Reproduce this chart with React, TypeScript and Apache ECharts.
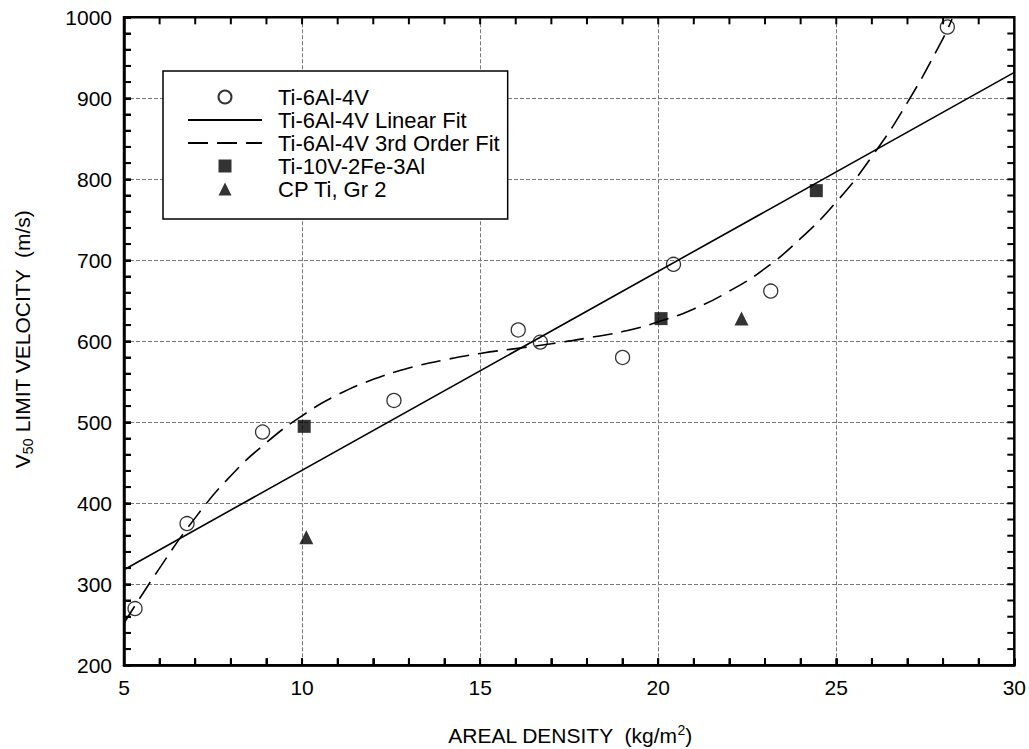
import React, { useEffect, useRef } from "react";
import * as echarts from "echarts";

const FONT = "'Liberation Sans', Arial, sans-serif";

// Ti-6Al-4V measured points
const ti64X = [5.31, 6.77, 8.89, 12.58, 16.07, 16.69, 19.0, 20.43, 23.16, 28.12];
const ti64Y = [270, 375, 488, 527, 614, 599, 580, 695, 662, 988];

// Ti-10V-2Fe-3Al
const ti10X = [10.06, 20.08, 24.44];
const ti10Y = [495, 628, 786];

// CP Ti, Gr 2
const cpX = [10.12, 22.34];
const cpY = [358, 628];

// Linear fit (end points)
const linX = [5, 30];
const linY = [318, 932];

// 3rd order fit (curve)
const cubX = [5, 6, 7, 8, 9, 10, 11, 12, 13, 14, 15, 16, 17, 18, 19, 20, 21, 22, 23, 24, 25, 26, 27, 28, 28.25];
const cubY = [252, 320, 382, 434, 475, 508, 534, 553, 567, 577, 585, 591, 597, 604, 612, 624, 640, 662, 690, 727, 772, 828, 895, 974, 998];

const xTicks = { min: 5, max: 30, interval: 5 };
const yTicks = { min: 200, max: 1000, interval: 100 };
const xMinorStep = 1;
const yMinorStep = 20;

const legendNames = [
  "Ti-6Al-4V",
  "Ti-6Al-4V Linear Fit",
  "Ti-6Al-4V 3rd Order Fit",
  "Ti-10V-2Fe-3Al",
  "CP Ti, Gr 2",
];

const xTitle = "AREAL DENSITY  (kg/m{sup|2})";
const yTitle = "V{sub|50} LIMIT VELOCITY  (m/s)";

const zip = (xs: number[], ys: number[]) => xs.map((x, i) => [x, ys[i]]);

export default function App() {
  const ref = useRef<HTMLDivElement>(null);
  useEffect(() => {
    if (!ref.current) return;
    const chart = echarts.init(ref.current, null, { renderer: "svg" });
    const axisLine = () => ({ show: true, lineStyle: { color: "#000", width: 2.5 } });
    const tick = () => ({ show: true, inside: true, length: 7, lineStyle: { color: "#000", width: 2 } });
    const minor = () => ({ show: true, splitNumber: 5, length: 7, lineStyle: { color: "#000", width: 2 } });
    const split = () => ({ show: true, lineStyle: { color: "#777", width: 1, type: "dashed" } });
    const gridRect = { left: 124, right: 13.5, top: 17.3, bottom: 83.7 };
    const titles: any[] = [
      {
        type: "text",
        x: 22,
        y: 339,
        rotation: Math.PI / 2,
        style: {
          text: yTitle,
          fontSize: 21,
          fontFamily: FONT,
          fill: "#000",
          align: "center",
          verticalAlign: "middle",
          rich: { sub: { fontSize: 14, padding: [11, 0, 0, 0], fontFamily: FONT, fill: "#000" } },
        },
      },
      {
        type: "text",
        x: 570,
        y: 735,
        style: {
          text: xTitle,
          fontSize: 21,
          fontFamily: FONT,
          fill: "#000",
          align: "center",
          verticalAlign: "middle",
          rich: { sup: { fontSize: 14, padding: [0, 0, 10, 0], fontFamily: FONT, fill: "#000" } },
        },
      },
    ];
    chart.setOption({
      animation: false,
      grid: { ...gridRect },
      legend: {
        orient: "vertical",
        left: 163,
        top: 71,
        padding: [15, 8, 19, 24],
        borderColor: "#000",
        borderWidth: 1.5,
        backgroundColor: "#fff",
        itemWidth: 74,
        itemHeight: 13,
        itemGap: 1,
        symbolKeepAspect: true,
        textStyle: { fontSize: 22, color: "#000", fontFamily: FONT, padding: [0, 0, 0, 11] },
        data: [
          { name: legendNames[0], icon: "circle" },
          { name: legendNames[1], itemStyle: { opacity: 0 } },
          { name: legendNames[2], itemStyle: { opacity: 0 } },
          { name: legendNames[3], icon: "path://M0,0L10,0L10,10L0,10Z" },
          { name: legendNames[4], icon: "path://M5,0L10,10L0,10Z" },
        ],
      },
      graphic: titles,
      xAxis: {
        type: "value",
        ...xTicks,
        axisLine: axisLine(),
        axisTick: tick(),
        minorTick: minor(),
        splitLine: split(),
        axisLabel: { fontSize: 21, color: "#000", margin: 12, fontFamily: FONT },
      },
      yAxis: {
        type: "value",
        ...yTicks,
        axisLine: axisLine(),
        axisTick: tick(),
        minorTick: minor(),
        splitLine: split(),
        axisLabel: { fontSize: 21, color: "#000", margin: 12, fontFamily: FONT, formatter: (v: number) => String(v) },
      },
      series: [
        {
          name: legendNames[1],
          type: "line",
          data: zip(linX, linY),
          symbol: "none",
          lineStyle: { color: "#000", width: 1.6, type: "solid" },
          itemStyle: { color: "#000" },
        },
        {
          name: legendNames[2],
          type: "line",
          data: zip(cubX, cubY),
          symbol: "none",
          smooth: true,
          lineStyle: { color: "#000", width: 1.6, type: [20, 9] },
          itemStyle: { color: "#000" },
        },
        {
          name: legendNames[0],
          type: "scatter",
          data: zip(ti64X, ti64Y),
          symbol: "circle",
          symbolSize: 14,
          itemStyle: { color: "rgba(255,255,255,0)", borderColor: "#000", borderWidth: 1.3 },
        },
        {
          name: legendNames[3],
          type: "scatter",
          data: zip(ti10X, ti10Y),
          symbol: "rect",
          symbolSize: 13,
          itemStyle: { color: "#000" },
        },
        {
          name: legendNames[4],
          type: "scatter",
          data: zip(cpX, cpY),
          symbol: "triangle",
          symbolSize: 14,
          itemStyle: { color: "#000" },
        },
      ],
    });

    // Frame and inward ticks on all four sides, placed through the grid's own scales
    const pt = (x: number, y: number) => chart.convertToPixel({ gridIndex: 0 }, [x, y]) as number[];
    const lo = pt(xTicks.min, yTicks.min);
    const hi = pt(xTicks.max, yTicks.max);
    if (lo && hi && isFinite(lo[0]) && isFinite(hi[1])) {
      const x0 = lo[0];
      const y0 = lo[1];
      const x1 = hi[0];
      const y1 = hi[1];
      const L = 7;
      const tickStyle = { stroke: "#000", lineWidth: 2 };
      const els: any[] = [...titles];
      for (let v = xTicks.min + xMinorStep; v < xTicks.max; v += xMinorStep) {
        const x = pt(v, yTicks.min)[0];
        els.push({ type: "line", z: 20, silent: true, shape: { x1: x, y1: y0, x2: x, y2: y0 - L }, style: tickStyle });
        els.push({ type: "line", z: 20, silent: true, shape: { x1: x, y1: y1, x2: x, y2: y1 + L }, style: tickStyle });
      }
      for (let v = yTicks.min + yMinorStep; v < yTicks.max; v += yMinorStep) {
        const y = pt(xTicks.min, v)[1];
        els.push({ type: "line", z: 20, silent: true, shape: { x1: x0, y1: y, x2: x0 + L, y2: y }, style: tickStyle });
        els.push({ type: "line", z: 20, silent: true, shape: { x1: x1, y1: y, x2: x1 - L, y2: y }, style: tickStyle });
      }
      els.push({
        type: "rect",
        z: 21,
        silent: true,
        shape: { x: x0, y: y1, width: x1 - x0, height: y0 - y1 },
        style: { fill: "none", stroke: "#000", lineWidth: 2.5 },
      });
      chart.setOption({ graphic: els }, { replaceMerge: ["graphic"] });
    }

    return () => chart.dispose();
  }, []);
  return (
    <div
      ref={ref}
      style={{ position: "fixed", left: 0, top: 0, width: 1029, height: 749, background: "#fff" }}
    />
  );
}
